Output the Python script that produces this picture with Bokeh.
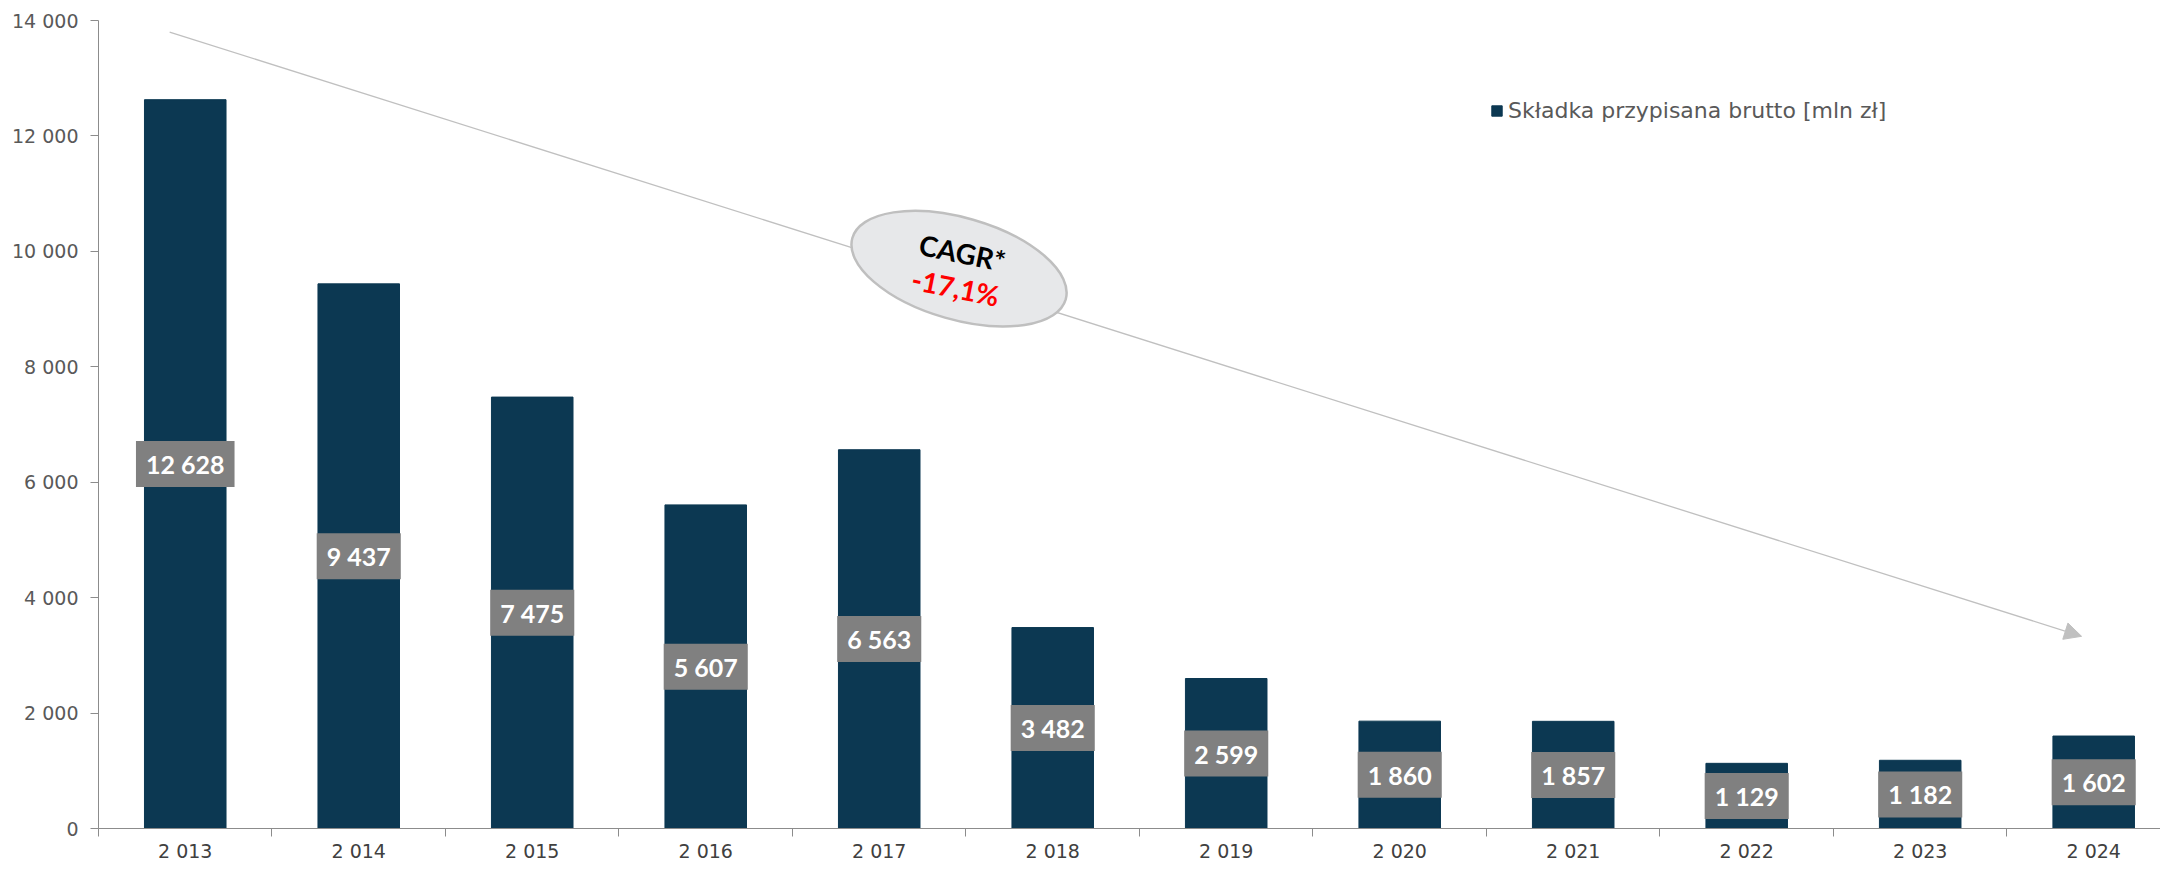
from bokeh.plotting import figure
from bokeh.models import Range1d, FixedTicker, Legend, LegendItem, Arrow, NormalHead, ColumnDataSource
from bokeh.core.properties import value
from bokeh.embed import file_html
from bokeh.resources import INLINE

# ---- data ----
years = ["2 013", "2 014", "2 015", "2 016", "2 017", "2 018",
         "2 019", "2 020", "2 021", "2 022", "2 023", "2 024"]
premiums = [12628, 9437, 7475, 5607, 6563, 3482, 2599, 1860, 1857, 1129, 1182, 1602]
value_labels = ["12 628", "9 437", "7 475", "5 607", "6 563", "3 482",
                "2 599", "1 860", "1 857", "1 129", "1 182", "1 602"]
y_ticks = [0, 2000, 4000, 6000, 8000, 10000, 12000, 14000]
y_tick_labels = ["0", "2 000", "4 000", "6 000", "8 000", "10 000", "12 000", "14 000"]
legend_label = "Składka przypisana brutto [mln zł]"
cagr_title = "CAGR*"
cagr_value = "-17,1%"
# trend arrow & CAGR bubble (data units: x = year index, y = mln zł)
trend_start = (-0.09, 13800)
trend_end = (10.93, 3330)
cagr_bubble = (4.46, 9700)
cagr_title_pos = (4.48, 9980)
cagr_value_pos = (4.44, 9380)

FONT = "DejaVu Sans"
BOLD_FONT = "Lato"
BAR = "#0c3852"
AXIS = "#8c8c8c"
TXT = "#595959"

idx = list(range(len(years)))
src = ColumnDataSource(dict(x=idx, top=premiums, mid=[v / 2 for v in premiums], lab=value_labels))

# the right edge of the plot is cut by the picture, as in the original
p = figure(width=2160, height=864, x_range=Range1d(-0.5, 11.385), y_range=Range1d(0, 14000),
           output_backend="svg", toolbar_location=None,
           min_border_left=98, min_border_right=0, min_border_top=20, min_border_bottom=0)
p.outline_line_color = None
p.xgrid.visible = False
p.ygrid.visible = False
p.background_fill_color = "white"
p.border_fill_color = "white"

# x axis
xa = p.xaxis[0]
xa.ticker = FixedTicker(ticks=idx, minor_ticks=[i - 0.5 for i in range(len(years) + 1)])
xa.major_label_overrides = {i: years[i] for i in idx}
xa.major_tick_out = 0
xa.major_tick_in = 0
xa.minor_tick_out = 8
xa.minor_tick_in = 0
xa.minor_tick_line_color = AXIS
xa.axis_line_color = AXIS
xa.major_label_text_font = FONT
xa.major_label_text_font_size = "19px"
xa.major_label_text_color = "#404040"
xa.major_label_standoff = 3

# y axis
ya = p.yaxis[0]
ya.ticker = FixedTicker(ticks=y_ticks, minor_ticks=[])
ya.major_label_overrides = {t: l for t, l in zip(y_ticks, y_tick_labels)}
ya.major_tick_out = 8
ya.major_tick_in = 0
ya.minor_tick_out = 0
ya.minor_tick_in = 0
ya.major_tick_line_color = AXIS
ya.axis_line_color = AXIS
ya.major_label_text_font = FONT
ya.major_label_text_font_size = "19px"
ya.major_label_text_color = TXT
ya.major_label_standoff = 12

# trend arrow (under the glyphs)
arrow = Arrow(x_start=trend_start[0], y_start=trend_start[1], x_end=trend_end[0], y_end=trend_end[1],
              line_color="#c0c0c0", line_width=1.3,
              end=NormalHead(size=17, fill_color="#c0c0c0", line_color="#c0c0c0"),
              level="underlay")
p.add_layout(arrow)

# bars
bars = p.vbar(x="x", top="top", width=0.47, source=src, fill_color=BAR, line_color=BAR)

# value labels
p.text(x="x", y="mid", text="lab", source=src, text_align="center", text_baseline="middle",
       text_color="white", text_font=value(BOLD_FONT), text_font_style="bold", text_font_size="25px",
       background_fill_color="#808080", padding=(10, 8))

# CAGR bubble
p.ellipse(x=[cagr_bubble[0]], y=[cagr_bubble[1]], width=222, height=102,
          width_units="screen", height_units="screen", angle=-0.28,
          fill_color="#e7e8ea", line_color="#bfbfbf", line_width=2.5)
p.text(x=[cagr_title_pos[0]], y=[cagr_title_pos[1]], text=[cagr_title], angle=-0.2,
       text_align="center", text_baseline="middle", text_color="black",
       text_font=value(BOLD_FONT), text_font_style="bold", text_font_size="28px")
p.text(x=[cagr_value_pos[0]], y=[cagr_value_pos[1]], text=[cagr_value], angle=-0.2,
       text_align="center", text_baseline="middle", text_color="#ff0000",
       text_font=value(BOLD_FONT), text_font_style="bold", text_font_size="28px")

# legend
legend = Legend(items=[LegendItem(label=legend_label, renderers=[bars])],
                location=(1392, 705), orientation="vertical",
                label_text_font=FONT, label_text_font_size="22px", label_text_color=TXT,
                glyph_width=13, glyph_height=13, label_standoff=5, label_height=24,
                padding=0, margin=0, spacing=0,
                border_line_color=None, background_fill_alpha=0)
p.add_layout(legend)

open("out.html", "w").write(file_html(p, INLINE))
